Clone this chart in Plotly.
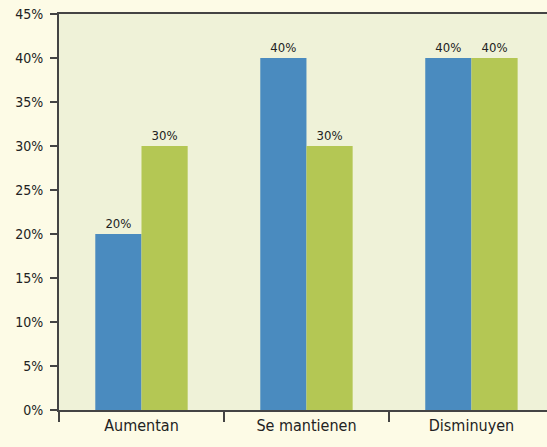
import plotly.graph_objects as go

categories = ["Aumentan", "Se mantienen", "Disminuyen"]
serie_azul = [20, 40, 40]
serie_verde = [30, 30, 40]
y_ticks = [0, 5, 10, 15, 20, 25, 30, 35, 40, 45]
y_tick_labels = [f"{v}%" for v in y_ticks]

font_family = "DejaVu Sans Condensed, Liberation Sans Narrow, sans-serif"

fig = go.Figure()
fig.add_trace(go.Bar(
    x=categories, y=serie_azul, name="Serie 1",
    marker=dict(color="#4A8BBF", line=dict(width=0)),
    text=[f"{v}%" for v in serie_azul], textposition="outside",
    textfont=dict(size=13, color="#222222", family=font_family),
    cliponaxis=False,
))
fig.add_trace(go.Bar(
    x=categories, y=serie_verde, name="Serie 2",
    marker=dict(color="#B4C754", line=dict(width=0)),
    text=[f"{v}%" for v in serie_verde], textposition="outside",
    textfont=dict(size=13, color="#222222", family=font_family),
    cliponaxis=False,
))

fig.update_layout(
    width=547, height=447,
    margin=dict(l=59, r=0, t=14, b=37),
    paper_bgcolor="#FDFBE6",
    plot_bgcolor="#EFF2D8",
    barmode="group", bargap=0.44, bargroupgap=0,
    showlegend=False,
    font=dict(family=font_family, color="#222222"),
)
fig.update_xaxes(
    range=[-0.5, 2.458],
    showline=True, linecolor="#444444", linewidth=2, mirror=True,
    ticks="outside", tickson="boundaries", ticklen=10, tickcolor="#444444", tickwidth=2,
    tickfont=dict(size=16, color="#222222"),
    showgrid=False,
)
fig.update_yaxes(
    range=[0, 45],
    tickvals=y_ticks, ticktext=y_tick_labels,
    showline=True, linecolor="#444444", linewidth=2,
    ticks="outside", ticklen=7, tickcolor="#444444", tickwidth=2,
    tickfont=dict(size=14, color="#222222"),
    ticklabelstandoff=4,
    showgrid=False, zeroline=False,
)

fig.write_html(
    "out.html",
    config={"displayModeBar": False},
    post_script="document.body.style.margin='0px';document.body.style.overflow='hidden';",
)
